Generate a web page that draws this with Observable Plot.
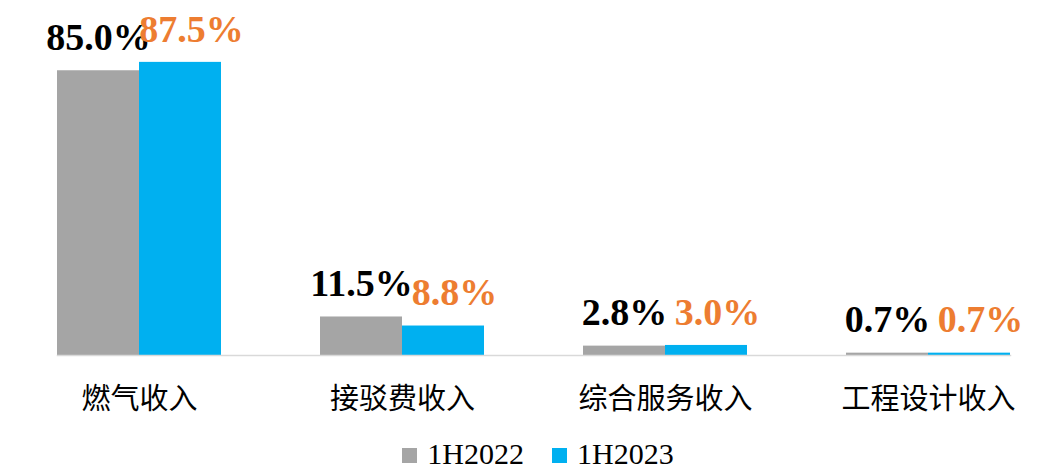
<!DOCTYPE html>
<html>
<head>
<meta charset="utf-8">
<script src="https://cdn.jsdelivr.net/npm/d3@7"></script>
<script src="https://cdn.jsdelivr.net/npm/@observablehq/plot@0.6"></script>
<style>
  html, body { margin: 0; padding: 0; background: #fff; overflow: hidden; }
  #legend {
    width: 1054px; height: 46px; box-sizing: border-box; padding-top: 12px; padding-left: 22px;
    display: flex; justify-content: center; align-items: flex-start;
    font-family: "Liberation Serif", "Times New Roman", serif; font-size: 30px; line-height: normal; color: #000;
  }
  .item { display: flex; align-items: center; }
  .sw { width: 15px; height: 15px; margin-right: 10px; margin-top: 2px; }
</style>
</head>
<body>
<div id="chart"></div>
<script>
const categories = ["燃气收入", "接驳费收入", "综合服务收入", "工程设计收入"];
const seriesNames = ["1H2022", "1H2023"];
const values2022 = [85.0, 11.5, 2.8, 0.7];
const values2023 = [87.5, 8.8, 3.0, 0.7];
const barColors = ["#A5A5A5", "#00B0F0"];
const labelColors = ["#000000", "#ED7D31"];

const rows = [];
categories.forEach((c, i) => {
  rows.push({cat: c, series: seriesNames[0], value: values2022[i]});
  rows.push({cat: c, series: seriesNames[1], value: values2023[i]});
});

const labelFont = {fontFamily: "Liberation Serif, Times New Roman, serif", fontWeight: "bold", fontSize: 38};

const chart = Plot.plot({
  width: 1054,
  height: 425,
  marginTop: 20,
  marginBottom: 70,
  marginLeft: 8,
  marginRight: 0,
  fx: {domain: categories, paddingInner: 0.3764, paddingOuter: 0.173, align: 0.527, label: null},
  x: {domain: seriesNames, padding: 0, axis: null},
  y: {domain: [0, 100], axis: null},
  color: {domain: seriesNames, range: barColors},
  style: {background: "#fff", overflow: "visible"},
  marks: [
    Plot.axisFx({anchor: "bottom", tickSize: 0, tickPadding: 33, fontSize: 29, fontFamily: "Noto Sans CJK SC", fill: "#000", label: null}),
    Plot.barY(rows, {fx: "cat", x: "series", y: "value", fill: "series"}),
    Plot.frame({anchor: "bottom", facet: "super", stroke: "#D9D9D9", strokeWidth: 1.5}),
    Plot.text(rows.filter(d => d.series === seriesNames[0]), {
      fx: "cat", x: "series", y: "value", text: d => d.value.toFixed(1) + "%",
      dy: -33, fill: labelColors[0], ...labelFont
    }),
    Plot.text(rows.filter(d => d.series === seriesNames[1]), {
      fx: "cat", x: "series", y: "value", text: d => d.value.toFixed(1) + "%",
      dy: -33, dx: 11, fill: labelColors[1], ...labelFont
    })
  ]
});
document.getElementById("chart").appendChild(chart);

const legend = document.createElement("div");
legend.id = "legend";
seriesNames.forEach((s, i) => {
  const item = document.createElement("div");
  item.className = "item";
  if (i > 0) item.style.marginLeft = "28px";
  const sw = document.createElement("div");
  sw.className = "sw";
  sw.style.background = barColors[i];
  const t = document.createElement("span");
  t.textContent = s;
  item.appendChild(sw);
  item.appendChild(t);
  legend.appendChild(item);
});
document.body.appendChild(legend);
</script>
</body>
</html>
